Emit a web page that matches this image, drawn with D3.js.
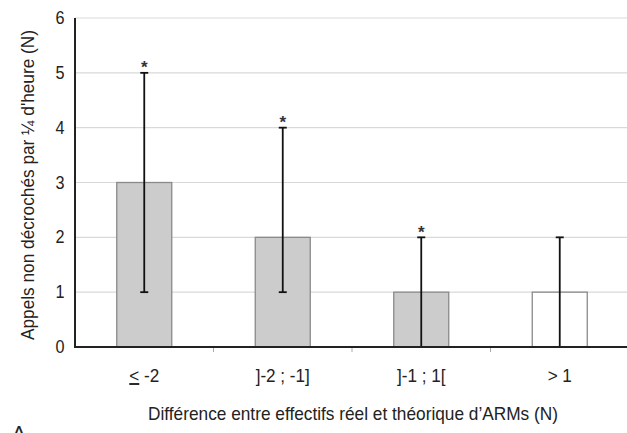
<!DOCTYPE html>
<html><head><meta charset="utf-8">
<script src="https://cdn.jsdelivr.net/npm/d3@7"></script>
<style>body{margin:0;background:#fff;}svg{display:block;font-family:"Liberation Sans",Arial,sans-serif;}</style>
</head><body><svg id="c" width="627" height="433"></svg>
<script>
const categories = ["≤ -2", "]-2 ; -1]", "]-1 ; 1[", "> 1"];
const values = [3, 2, 1, 1];
const errLow = [1, 1, 0, 0];
const errHigh = [5, 4, 2, 2];
const significant = [true, true, true, false];
const fills = ["#cccccc", "#cccccc", "#cccccc", "#ffffff"];
const yTicks = [0, 1, 2, 3, 4, 5, 6];

const svg = d3.select("#c");
const x0 = 75, x1 = 629, yTop = 18, yBot = 347;
const band = d3.scaleBand().domain(categories).range([x0, x1]);
const y = d3.scaleLinear().domain([0, 6]).range([yBot, yTop]);

// gridlines
svg.append("g").selectAll("line").data(yTicks.filter(d => d > 0)).join("line")
  .attr("x1", x0).attr("x2", 627).attr("y1", d => y(d)).attr("y2", d => y(d))
  .attr("stroke", "#d9d9d9").attr("stroke-width", 1.2);

// y tick labels
svg.append("g").selectAll("text").data(yTicks).join("text")
  .attr("transform", d => `translate(60,${y(d) + 6}) scale(0.9,1)`)
  .attr("text-anchor", "middle")
  .attr("font-size", 18).attr("fill", "#222").text(d => d);

// bars
const bw = 55;
svg.append("g").selectAll("rect").data(categories).join("rect")
  .attr("x", (d) => band(d) + band.bandwidth() / 2 - bw / 2)
  .attr("width", bw)
  .attr("y", (d, i) => y(values[i]))
  .attr("height", (d, i) => y(0) - y(values[i]))
  .attr("fill", (d, i) => fills[i]).attr("stroke", "#8a8a8a").attr("stroke-width", 1.3);

// x axis tick marks at band boundaries
const bounds = categories.map(c => band(c)).slice(1);
svg.append("g").selectAll("line").data(bounds).join("line")
  .attr("x1", d => d).attr("x2", d => d).attr("y1", yBot).attr("y2", yBot + 5)
  .attr("stroke", "#aaa").attr("stroke-width", 1);

// error bars
const eg = svg.append("g").attr("stroke", "#111").attr("stroke-width", 1.8);
categories.forEach((c, i) => {
  const cx = band(c) + band.bandwidth() / 2;
  eg.append("line").attr("x1", cx).attr("x2", cx).attr("y1", y(errLow[i])).attr("y2", y(errHigh[i]));
  eg.append("line").attr("x1", cx - 4).attr("x2", cx + 4).attr("y1", y(errHigh[i])).attr("y2", y(errHigh[i]));
  if (errLow[i] > 0) eg.append("line").attr("x1", cx - 4).attr("x2", cx + 4).attr("y1", y(errLow[i])).attr("y2", y(errLow[i]));
  if (significant[i]) {
    svg.append("text").attr("x", cx).attr("y", y(errHigh[i]) + 0.5).attr("text-anchor", "middle")
      .attr("font-weight", "bold")
      .attr("font-size", 17).attr("fill", "#333").text("*");
  }
});

// axes lines
svg.append("line").attr("x1", x0).attr("x2", x0).attr("y1", yTop).attr("y2", yBot + 1)
  .attr("stroke", "#222").attr("stroke-width", 2);
svg.append("line").attr("x1", x0 - 1).attr("x2", 627).attr("y1", yBot).attr("y2", yBot)
  .attr("stroke", "#222").attr("stroke-width", 2);

// category labels
svg.append("g").selectAll("text").data(categories).join("text")
  .attr("transform", d => `translate(${band(d) + band.bandwidth() / 2},382) scale(0.9,1)`)
  .attr("text-anchor", "middle")
  .attr("font-size", 19).attr("fill", "#222")
  .each(function(d) {
    const t = d3.select(this);
    if (d.startsWith("≤")) {
      t.append("tspan").attr("text-decoration", "underline").text("<");
      t.append("tspan").text(" -2");
    } else t.text(d);
  });

// axis titles
svg.append("text").attr("x", 148).attr("y", 420)
  .attr("textLength", 410).attr("lengthAdjust", "spacingAndGlyphs")
  .attr("font-size", 19).attr("fill", "#222").text("Différence entre effectifs réel et théorique d’ARMs (N)");
svg.append("text").attr("transform", "translate(34,340) rotate(-90)")
  .attr("textLength", 310).attr("lengthAdjust", "spacingAndGlyphs")
  .attr("font-size", 19).attr("fill", "#222").text("Appels non décrochés par ¼ d'heure (N)");

// panel label (cut off at bottom)
svg.append("text").attr("x", 19).attr("y", 440).attr("text-anchor", "middle")
  .attr("font-size", 20).attr("fill", "#222").text("A");
</script></body></html>
